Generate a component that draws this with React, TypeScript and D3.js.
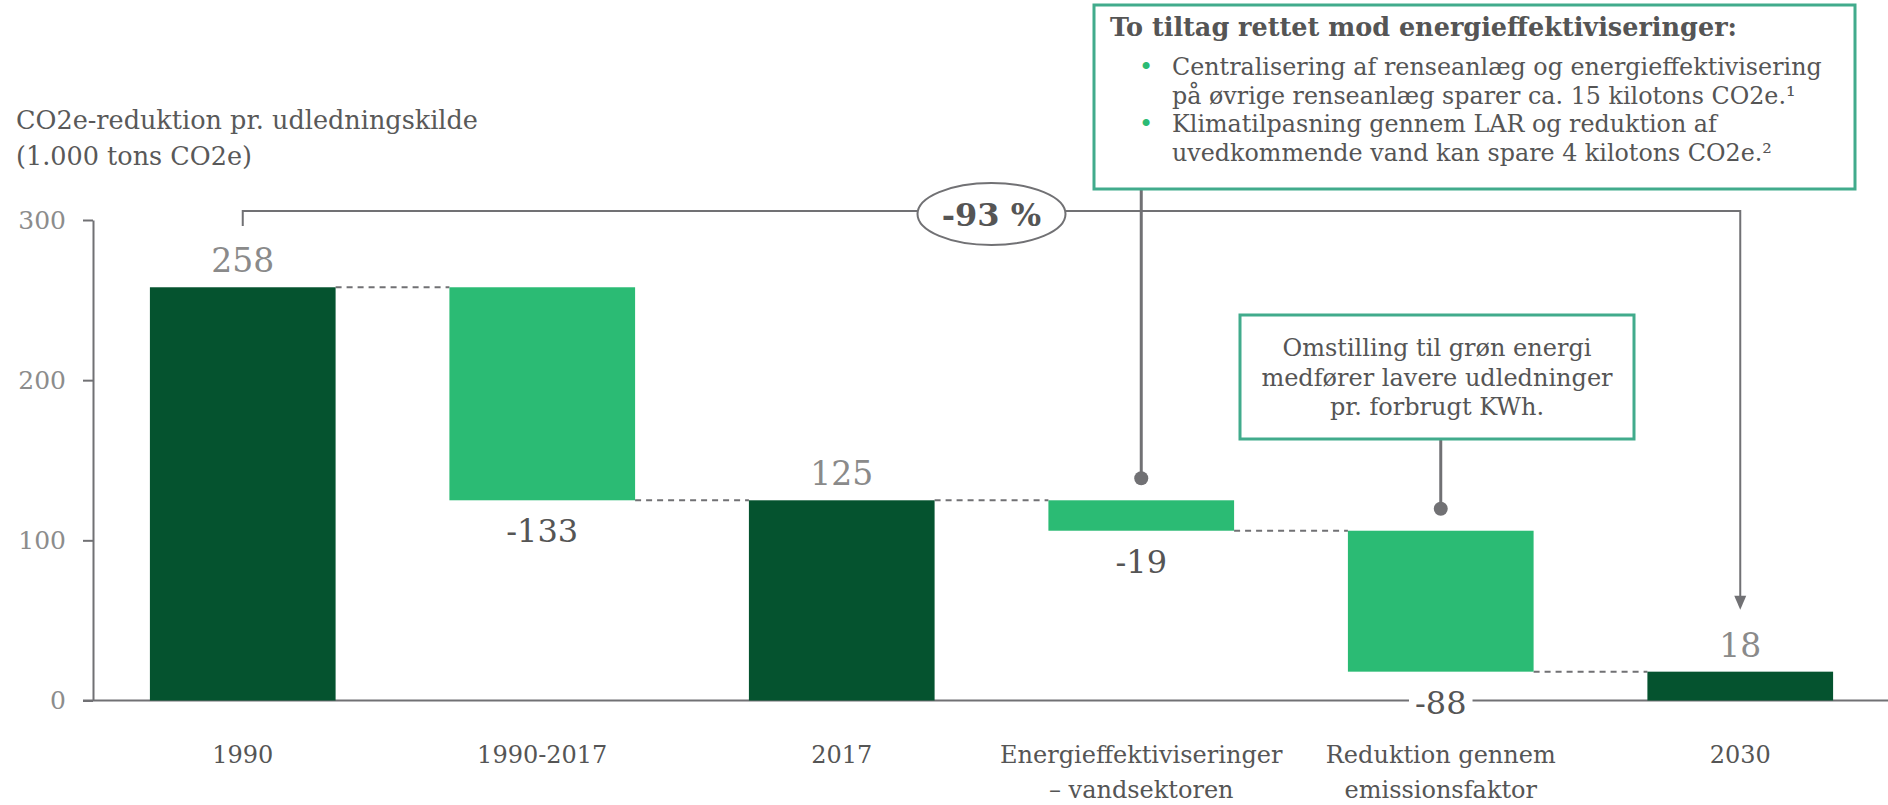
import React, { useEffect, useRef } from "react"
import * as d3 from "d3"

// chart data
const categories = ["1990", "1990-2017", "2017", "Energieffektiviseringer|– vandsektoren", "Reduktion gennem|emissionsfaktor", "2030"]
const values = [258, -133, 125, -19, -88, 18]
const isTotal = [true, false, true, false, false, true]
const yTicks = [0, 100, 200, 300]
const totalChange = "-93 %"

const boxTitle = "To tiltag rettet mod energieffektiviseringer:"
const boxBullets = [
	["Centralisering af renseanlæg og energieffektivisering", "på øvrige renseanlæg sparer ca. 15 kilotons CO2e.¹"],
	["Klimatilpasning gennem LAR og reduktion af", "uvedkommende vand kan spare 4 kilotons CO2e.²"],
]
const box2Lines = ["Omstilling til grøn energi", "medfører lavere udledninger", "pr. forbrugt KWh."]

const DARK = "#05532f"
const LIGHT = "#2bbb74"
const TEAL = "#41ab8c"
const GREY = "#717174"
const FONT = "'DejaVu Serif', Georgia, serif"

export default function App() {
	const mount = useRef<SVGSVGElement>(null)

	useEffect(() => {
		const W = 1888
		const H = 805
		const svg = d3.select(mount.current)
		svg.selectAll("*").remove()
		svg.attr("width", W).attr("height", H).style("font-family", FONT)

		// waterfall steps
		let running = 0
		const steps = values.map((v, i) => {
			let lo, hi
			if (isTotal[i]) {
				lo = 0
				hi = v
				running = v
			} else {
				const next = running + v
				lo = Math.min(running, next)
				hi = Math.max(running, next)
				running = next
			}
			return { cat: categories[i], v, lo, hi, end: running, total: isTotal[i] }
		})

		const x = d3.scaleBand().domain(categories).range([93, 1890]).paddingInner(0.38).paddingOuter(0.19)
		const y = d3.scaleLinear().domain([0, 300]).range([700.5, 220])
		const bw = x.bandwidth()
		const cx = (c: string) => (x(c) as number) + bw / 2

		// y axis
		const yAxis = d3.axisLeft(y).tickValues(yTicks).tickSize(10).tickSizeOuter(0).tickPadding(17)
		const ga = svg.append("g").attr("transform", "translate(93,0)").call(yAxis)
		ga.select(".domain").attr("stroke", GREY).attr("stroke-width", 2)
		ga.selectAll(".tick line").attr("stroke", GREY).attr("stroke-width", 2)
		ga.selectAll(".tick text").attr("fill", "#8c8c8c").style("font-size", "25px").style("font-family", FONT)

		// x axis line
		svg.append("line").attr("x1", 83).attr("x2", W).attr("y1", y(0)).attr("y2", y(0)).attr("stroke", GREY).attr("stroke-width", 2)

		// axis title
		const title = svg.append("text").attr("x", 16).attr("fill", "#595959").style("font-size", "25.5px")
		title.append("tspan").attr("x", 16).attr("y", 129).text("CO2e-reduktion pr. udledningskilde")
		title.append("tspan").attr("x", 16).attr("y", 165).text("(1.000 tons CO2e)")

		// connectors
		svg
			.selectAll("line.conn")
			.data(steps.slice(0, -1))
			.enter()
			.append("line")
			.attr("x1", d => (x(d.cat) as number) + bw)
			.attr("x2", (d, i) => x(categories[i + 1]) as number)
			.attr("y1", d => y(d.end))
			.attr("y2", d => y(d.end))
			.attr("stroke", GREY)
			.attr("stroke-width", 2)
			.attr("stroke-dasharray", "6,5")

		// bars
		svg
			.selectAll("rect.bar")
			.data(steps)
			.enter()
			.append("rect")
			.attr("x", d => x(d.cat) as number)
			.attr("width", bw)
			.attr("y", d => y(d.hi))
			.attr("height", d => y(d.lo) - y(d.hi))
			.attr("fill", d => (d.total ? DARK : LIGHT))

		// value labels
		steps.forEach(d => {
			if (d.v >= 0) {
				svg.append("text").attr("x", cx(d.cat)).attr("y", y(d.hi) - 15).attr("text-anchor", "middle").attr("fill", "#8a8a8a").style("font-size", "33px").text(d.v)
			} else {
				const ly = y(d.lo) + 42
				const t = svg.append("text").attr("x", cx(d.cat)).attr("y", ly).attr("text-anchor", "middle").attr("fill", "#555").style("font-size", "32px").text(d.v)
				if (ly > y(0) - 10) {
					const bb = (t.node() as SVGTextElement).getBBox()
					svg.insert("rect", () => t.node()).attr("x", bb.x - 6).attr("y", y(0) - 3).attr("width", bb.width + 12).attr("height", 6).attr("fill", "#fff")
				}
			}
		})

		// category labels
		steps.forEach(d => {
			const lines = d.cat.split("|")
			const t = svg.append("text").attr("text-anchor", "middle").attr("fill", "#555").style("font-size", "24px")
			lines.forEach((l, j) => t.append("tspan").attr("x", cx(d.cat)).attr("y", 763 + j * 35).text(l))
		})

		// total change bracket
		const c0 = cx(categories[0])
		const c5 = cx(categories[5])
		const by = 211
		svg
			.append("path")
			.attr("d", `M${c0},226 V${by} H${c5} V${y(steps[5].hi) - 74}`)
			.attr("fill", "none")
			.attr("stroke", GREY)
			.attr("stroke-width", 2)
		const tip = y(steps[5].hi) - 62
		svg.append("path").attr("d", `M${c5 - 6},${tip - 14} L${c5 + 6},${tip - 14} L${c5},${tip} Z`).attr("fill", GREY)
		const mid = (c0 + c5) / 2
		svg.append("ellipse").attr("cx", mid).attr("cy", 214).attr("rx", 74).attr("ry", 31).attr("fill", "#fff").attr("stroke", GREY).attr("stroke-width", 2)
		svg.append("text").attr("x", mid).attr("y", 226).attr("text-anchor", "middle").attr("fill", "#555").style("font-size", "32px").style("font-weight", "bold").text(totalChange)

		// callout 1
		const c3 = cx(categories[3])
		svg.append("line").attr("x1", c3).attr("x2", c3).attr("y1", 189).attr("y2", y(steps[3].hi) - 22).attr("stroke", GREY).attr("stroke-width", 3)
		svg.append("circle").attr("cx", c3).attr("cy", y(steps[3].hi) - 22).attr("r", 7).attr("fill", GREY)
		svg.append("rect").attr("x", 1094).attr("y", 5).attr("width", 761).attr("height", 184).attr("fill", "#fff").attr("stroke", TEAL).attr("stroke-width", 3)
		svg.append("text").attr("x", 1110).attr("y", 36).attr("fill", "#555").style("font-size", "25.5px").style("font-weight", "bold").text(boxTitle)
		let line = 0
		boxBullets.forEach(b => {
			svg.append("text").attr("x", 1139).attr("y", 75 + line * 28.5).attr("fill", LIGHT).style("font-size", "24px").text("•")
			b.forEach(s => {
				svg.append("text").attr("x", 1172).attr("y", 75 + line * 28.5).attr("fill", "#555").style("font-size", "23.8px").text(s)
				line++
			})
		})

		// callout 2
		const c4 = cx(categories[4])
		svg.append("line").attr("x1", c4).attr("x2", c4).attr("y1", 439).attr("y2", y(steps[4].hi) - 22).attr("stroke", GREY).attr("stroke-width", 3)
		svg.append("circle").attr("cx", c4).attr("cy", y(steps[4].hi) - 22).attr("r", 7).attr("fill", GREY)
		svg.append("rect").attr("x", 1240).attr("y", 315).attr("width", 394).attr("height", 124).attr("fill", "#fff").attr("stroke", TEAL).attr("stroke-width", 3)
		box2Lines.forEach((s, j) => {
			svg.append("text").attr("x", 1437).attr("y", 356 + j * 29.5).attr("text-anchor", "middle").attr("fill", "#555").style("font-size", "24px").text(s)
		})
	}, [])

	return <svg ref={mount} style={{ position: "absolute", left: 0, top: 0 }} />
}
